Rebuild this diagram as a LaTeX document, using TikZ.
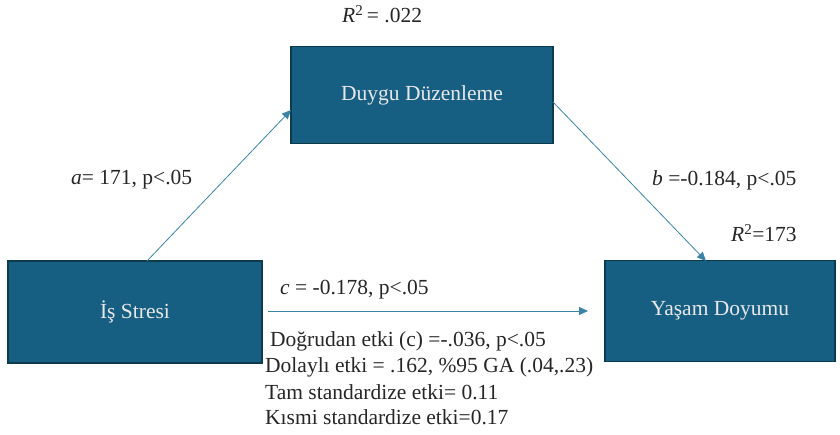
\documentclass[tikz,border=0pt]{standalone}
\usepackage{fontspec}
\setmainfont{Liberation Serif}
\usetikzlibrary{arrows.meta}
\definecolor{boxfill}{HTML}{175F82}
\definecolor{boxline}{HTML}{0E3A4E}
\definecolor{arrowc}{HTML}{3B83A6}
\definecolor{boxtext}{HTML}{E8E8E8}
\tikzset{
  varbox/.style={draw=boxline, line width=1.6pt, fill=boxfill, text=boxtext, font=\fontsize{21.5}{24}\selectfont, inner sep=0pt},
  conn/.style={draw=arrowc, line width=0.8pt, -{Triangle[length=9pt,width=8pt]}},
  lbl/.style={font=\fontsize{21.5}{24}\selectfont, inner sep=0pt, text=black!85},
}
\begin{document}
\begin{tikzpicture}[x=1pt,y=-1pt]
\useasboundingbox (0,0) rectangle (840,435);
\node[varbox, minimum width=262pt, minimum height=97pt] (m) at (422,95) {Duygu Düzenleme};
\node[varbox, minimum width=254pt, minimum height=102pt] (x) at (135,312) {İş Stresi};
\node[varbox, minimum width=230pt, minimum height=101pt] (y) at (720,311) {Yaşam Doyumu};
\coordinate (xa) at (147,261);
\coordinate (ma) at (291,110);
\coordinate (mb) at (553,102);
\coordinate (yb) at (706,261);
\coordinate (c0) at (268,311);
\coordinate (c1) at (588,311);
\draw[conn] (xa) -- (ma);
\draw[conn] (mb) -- (yb);
\draw[conn] (c0) -- (c1);
\node[lbl, anchor=west] (r1) at (342,14) {\textit{R}\textsuperscript{2}\,= .022};
\node[lbl, anchor=west] (la) at (71,180) {\textit{a}= 171, p<.05};
\node[lbl, anchor=west] (lb) at (652,180) {\textit{b} =-0.184, p<.05};
\node[lbl, anchor=west] (r2) at (731,233) {\textit{R}\textsuperscript{2}=173};
\node[lbl, anchor=west] (lc) at (280,290) {\textit{c} = -0.178, p<.05};
\node[lbl, anchor=west] (t1) at (270,341) {Doğrudan etki (c) =-.036, p<.05};
\node[lbl, anchor=west] (t2) at (265,367) {Dolaylı etki = .162, \%95 GA (.04,.23)};
\node[lbl, anchor=west] (t3) at (265,392) {Tam standardize etki= 0.11};
\node[lbl, anchor=west] (t4) at (265,417) {Kısmi standardize etki=0.17};
\end{tikzpicture}
\end{document}
